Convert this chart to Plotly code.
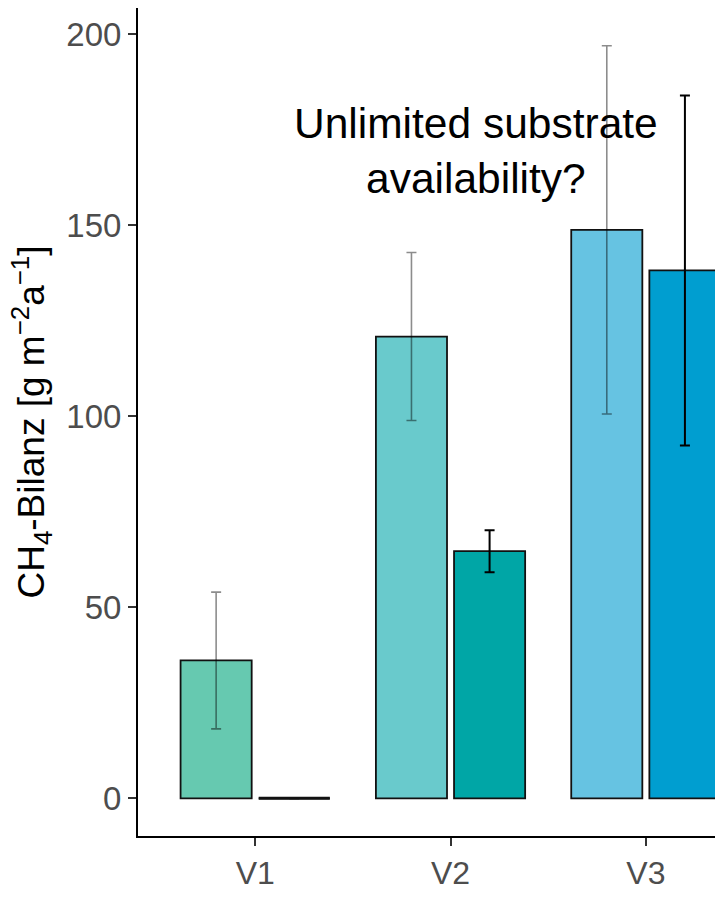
import plotly.graph_objects as go

categories = ["V1", "V2", "V3"]
series1_values = [36.1, 120.9, 148.8]
series1_err = [17.9, 22.0, 48.2]
series2_values = [0.0, 64.7, 138.2]
series2_err = [0.0, 5.5, 45.8]
series1_colors = ["#66C9B0", "#69CACC", "#66C3E2"]
series2_colors = ["#00A087", "#00A6A6", "#009ED0"]
y_ticks = [0, 50, 100, 150, 200]

idx = list(range(len(categories)))
bar_w = 0.364
off = 0.2
x1 = [i - off for i in idx]
x2 = [i + off for i in idx]

fig = go.Figure()
fig.add_trace(go.Bar(
    x=x1, y=series1_values, width=bar_w,
    marker=dict(color=series1_colors, line=dict(color="#111111", width=1.8)),
    error_y=dict(type="data", array=series1_err, visible=True,
                 color="rgba(0,0,0,0.45)", thickness=1.6, width=5),
    showlegend=False,
))
fig.add_trace(go.Bar(
    x=x2, y=series2_values, width=bar_w,
    marker=dict(color=series2_colors, line=dict(color="#111111", width=1.8)),
    error_y=dict(type="data", array=series2_err, visible=True,
                 color="#000000", thickness=2, width=5),
    showlegend=False,
))
# zero-height bars drawn as their outline (flat line)
for xs, vals in ((x1, series1_values), (x2, series2_values)):
    for xi, v in zip(xs, vals):
        if v == 0:
            fig.add_trace(go.Scatter(
                x=[xi - bar_w / 2, xi + bar_w / 2], y=[v, v], mode="lines",
                line=dict(color="#111111", width=3), showlegend=False,
                hoverinfo="skip"))

fig.add_annotation(
    x=1.128, y=169.5, xref="x", yref="y",
    text="Unlimited substrate<br>availability?",
    showarrow=False, font=dict(family="Liberation Sans, Arial", size=42.5, color="#000000"),
    align="center",
)

fig.update_layout(
    width=715, height=914,
    margin=dict(l=138, r=0, t=8, b=78),
    paper_bgcolor="white", plot_bgcolor="white",
    font=dict(family="Liberation Sans, Arial"),
)
fig.update_xaxes(
    range=[-0.6, 2.354],
    tickmode="array", tickvals=idx, ticktext=categories,
    tickfont=dict(size=32, color="#4D4D4D"),
    showline=True, linecolor="#000000", linewidth=2,
    ticks="outside", ticklen=8, tickcolor="#333333", tickwidth=1.5,
    showgrid=False, zeroline=False,
)
fig.update_yaxes(
    range=[-9.85, 206.9],
    tickmode="array", tickvals=y_ticks,
    tickfont=dict(size=33, color="#4D4D4D"),
    showline=True, linecolor="#000000", linewidth=2,
    ticks="outside", ticklen=8, tickcolor="#333333", tickwidth=1.5,
    showgrid=False, zeroline=False,
    title=dict(text="CH<sub>4</sub>-Bilanz [g m<sup>−2</sup>a<sup>−1</sup>]",
               font=dict(size=37, color="#000000"), standoff=10),
)

fig.write_html("out.html")
